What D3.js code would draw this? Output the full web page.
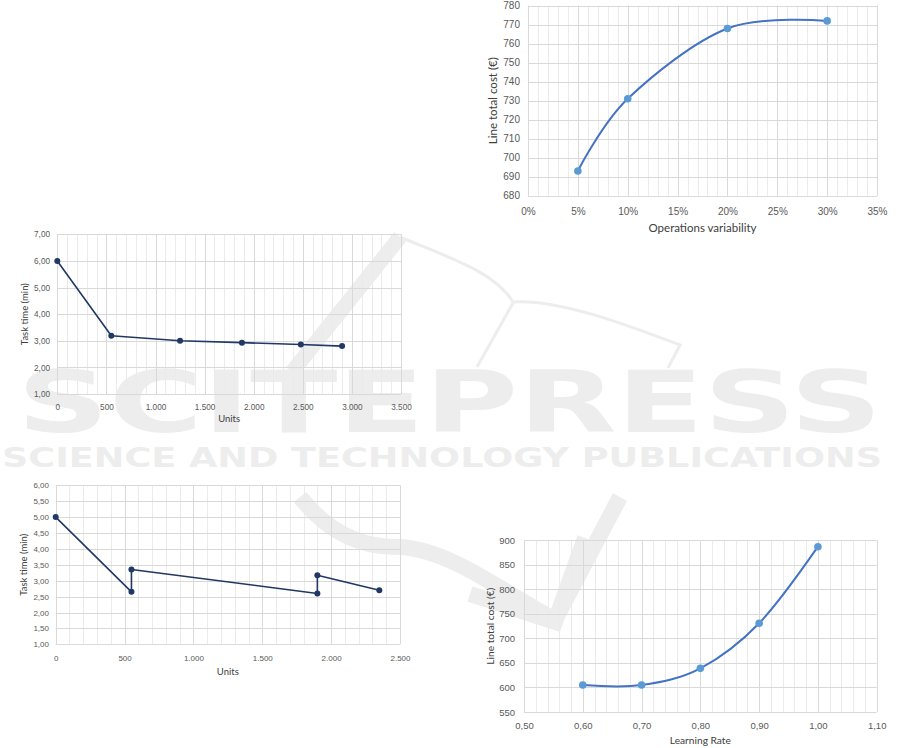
<!DOCTYPE html>
<html>
<head>
<meta charset="utf-8">
<script src="https://cdn.jsdelivr.net/npm/d3@7"></script>
<style>
  body { margin: 0; background: #fff; }
  svg { display: block; font-family: Lato, "Open Sans", sans-serif; }
  .tick-label { fill: #595959; }
  .axis-title { fill: #404040; }
  .wm { fill: #ededed; font-family: "DejaVu Sans", sans-serif; font-weight: bold; }
</style>
</head>
<body>
<svg id="myGraph" width="901" height="748"></svg>
<script>
// data
var opsVariability = [0.05, 0.10, 0.20, 0.30];
var opsCost = [693, 731, 768, 772];
var opsTicksX = [0, 0.05, 0.10, 0.15, 0.20, 0.25, 0.30, 0.35];
var opsTicksY = [680, 690, 700, 710, 720, 730, 740, 750, 760, 770, 780];

var unitsA = [0, 550, 1250, 1880, 2480, 2900];
var taskTimeA = [6.00, 3.19, 3.00, 2.93, 2.86, 2.80];
var unitsTicksA = [0, 500, 1000, 1500, 2000, 2500, 3000, 3500];
var timeTicksA = [1, 2, 3, 4, 5, 6, 7];

var unitsB = [0, 550, 550, 1900, 1900, 2350];
var taskTimeB = [5.00, 2.65, 3.35, 2.60, 3.17, 2.70];
var unitsTicksB = [0, 500, 1000, 1500, 2000, 2500];
var timeTicksB = [1, 1.5, 2, 2.5, 3, 3.5, 4, 4.5, 5, 5.5, 6];

var learningRate = [0.6, 0.7, 0.8, 0.9, 1.0];
var learningCost = [605, 605, 639, 731, 887];
var rateTicks = [0.5, 0.6, 0.7, 0.8, 0.9, 1.0, 1.1];
var learnCostTicks = [550, 600, 650, 700, 750, 800, 850, 900];

// european number format (1.000 / 6,00)
var eu = d3.formatLocale({decimal: ",", thousands: ".", grouping: [3], currency: ["", "€"]});

var svg = d3.select("#myGraph");

// watermark behind everything
var wm = svg.append("g");
wm.append("path")
  .attr("d", "M400,237 L292,372")
  .attr("stroke", "#ededed").attr("stroke-width", 15).attr("fill", "none");
wm.append("path")
  .attr("d", "M400,237 C450,258 495,272 513,302 C560,298 640,330 680,345 L668,368 M513,303 L477,367")
  .attr("stroke", "#ededed").attr("stroke-width", 3).attr("fill", "none");
wm.append("path")
  .attr("d", "M300,497 C330,535 365,548 400,547 C450,550 500,590 555,620 L620,497")
  .attr("stroke", "#ededed").attr("stroke-width", 16).attr("fill", "none")
  .attr("stroke-linejoin", "round");
wm.append("path")
  .attr("d", "M470,594 L555,622 L585,538")
  .attr("stroke", "#ededed").attr("stroke-width", 16).attr("fill", "none");
wm.append("text").attr("class", "wm")
  .attr("x", 17).attr("y", 432)
  .attr("font-size", 86)
  .attr("textLength", 865).attr("lengthAdjust", "spacingAndGlyphs")
  .text("SCITEPRESS");
wm.append("text").attr("class", "wm")
  .attr("x", 2).attr("y", 467)
  .attr("font-size", 27)
  .attr("textLength", 880).attr("lengthAdjust", "spacingAndGlyphs")
  .text("SCIENCE AND TECHNOLOGY PUBLICATIONS");

function drawChart(c) {
  var g = svg.append("g");
  var x = d3.scaleLinear().domain(c.xDomain).range([c.left, c.right]);
  var y = d3.scaleLinear().domain(c.yDomain).range([c.bottom, c.top]);

  // minor vertical grid
  g.selectAll(".minor").data(d3.range(c.xDomain[0], c.xDomain[1] + 1e-9, c.minorStep))
    .enter().append("line")
    .attr("x1", function(d){ return Math.round(x(d)) + 0.5; })
    .attr("x2", function(d){ return Math.round(x(d)) + 0.5; })
    .attr("y1", c.top).attr("y2", c.bottom)
    .attr("stroke", "#ebebeb");
  // major grid
  g.selectAll(".vgrid").data(c.xTicks).enter().append("line")
    .attr("x1", function(d){ return Math.round(x(d)) + 0.5; })
    .attr("x2", function(d){ return Math.round(x(d)) + 0.5; })
    .attr("y1", c.top).attr("y2", c.bottom)
    .attr("stroke", "#d9d9d9");
  g.selectAll(".hgrid").data(c.yTicks).enter().append("line")
    .attr("x1", c.left).attr("x2", c.right)
    .attr("y1", function(d){ return Math.round(y(d)) + 0.5; })
    .attr("y2", function(d){ return Math.round(y(d)) + 0.5; })
    .attr("stroke", "#d9d9d9");

  // tick labels via axes
  var xAxis = g.append("g")
    .attr("transform", "translate(0," + c.xTickY + ")")
    .call(d3.axisBottom(x).tickValues(c.xTicks).tickFormat(c.xFormat).tickSize(0).tickPadding(0));
  var yAxis = g.append("g")
    .attr("transform", "translate(" + c.yTickRight + ",0)")
    .call(d3.axisLeft(y).tickValues(c.yTicks).tickFormat(c.yFormat).tickSize(0).tickPadding(0));
  [xAxis, yAxis].forEach(function(a){
    a.select(".domain").remove();
    a.selectAll("text")
      .attr("class", "tick-label")
      .attr("font-size", c.tickSize)
      .attr("font-family", null);
  });
  xAxis.selectAll("text").attr("dy", "0.35em").attr("y", 0);

  // axis titles
  g.append("text").attr("class", "axis-title")
    .attr("x", (c.left + c.right) / 2).attr("y", c.xTitleY)
    .attr("dy", "0.35em").attr("text-anchor", "middle")
    .attr("font-size", c.titleSize)
    .text(c.xTitle);
  g.append("text").attr("class", "axis-title")
    .attr("transform", "translate(" + c.yTitleX + "," + ((c.top + c.bottom) / 2) + ") rotate(-90)")
    .attr("dy", "0.35em").attr("text-anchor", "middle")
    .attr("font-size", c.titleSize)
    .text(c.yTitle);

  // series line
  var pts = c.xs.map(function(d, i){ return [d, c.ys[i]]; });
  var line = d3.line()
    .x(function(d){ return x(d[0]); })
    .y(function(d){ return y(d[1]); })
    .curve(c.smooth ? d3.curveCardinal.tension(0) : d3.curveLinear);
  g.append("path")
    .datum(pts)
    .attr("d", line)
    .attr("fill", "none")
    .attr("stroke", c.lineColor)
    .attr("stroke-width", c.lineWidth)
    .attr("stroke-linejoin", "round");
  g.selectAll(".pt").data(pts).enter().append("circle")
    .attr("cx", function(d){ return x(d[0]); })
    .attr("cy", function(d){ return y(d[1]); })
    .attr("r", c.r)
    .attr("fill", c.markColor);
}

// operations variability
drawChart({
  xs: opsVariability, ys: opsCost,
  xDomain: [0, 0.35], yDomain: [680, 780], xTicks: opsTicksX, yTicks: opsTicksY, minorStep: 0.01,
  xFormat: d3.format(".0%"), yFormat: d3.format("d"),
  left: 528, right: 877, top: 5.7, bottom: 195.7,
  xTickY: 211, yTickRight: 520, xTitleY: 228, yTitleX: 493,
  tickSize: 10, titleSize: 11.5,
  xTitle: "Operations variability", yTitle: "Line total cost (€)",
  smooth: true, lineColor: "#4472C4", markColor: "#5B9BD5", lineWidth: 2, r: 3.8
});

// task time A
drawChart({
  xs: unitsA, ys: taskTimeA,
  xDomain: [0, 3500], yDomain: [1, 7], xTicks: unitsTicksA, yTicks: timeTicksA, minorStep: 100,
  xFormat: eu.format(",d"), yFormat: eu.format(",.2f"),
  left: 57.3, right: 401, top: 234.3, bottom: 394,
  xTickY: 406.7, yTickRight: 50, xTitleY: 419, yTitleX: 25,
  tickSize: 8.2, titleSize: 9.5,
  xTitle: "Units", yTitle: "Task time (min)",
  smooth: false, lineColor: "#203864", markColor: "#203864", lineWidth: 1.6, r: 3
});

// task time B
drawChart({
  xs: unitsB, ys: taskTimeB,
  xDomain: [0, 2500], yDomain: [1, 6], xTicks: unitsTicksB, yTicks: timeTicksB, minorStep: 100,
  xFormat: eu.format(",d"), yFormat: eu.format(",.2f"),
  left: 55.7, right: 400, top: 485.3, bottom: 644.3,
  xTickY: 657.7, yTickRight: 49, xTitleY: 671.7, yTitleX: 24,
  tickSize: 8, titleSize: 9.5,
  xTitle: "Units", yTitle: "Task time (min)",
  smooth: false, lineColor: "#203864", markColor: "#203864", lineWidth: 1.6, r: 3
});

// learning rate
drawChart({
  xs: learningRate, ys: learningCost,
  xDomain: [0.5, 1.1], yDomain: [550, 900], xTicks: rateTicks, yTicks: learnCostTicks, minorStep: 0.02,
  xFormat: eu.format(",.2f"), yFormat: d3.format("d"),
  left: 524, right: 876.7, top: 540.3, bottom: 712,
  xTickY: 725.7, yTickRight: 515, xTitleY: 740.7, yTitleX: 490.7,
  tickSize: 9.5, titleSize: 10.2,
  xTitle: "Learning Rate", yTitle: "Line total cost (€)",
  smooth: true, lineColor: "#4472C4", markColor: "#5B9BD5", lineWidth: 2, r: 3.8
});
</script>
</body>
</html>
